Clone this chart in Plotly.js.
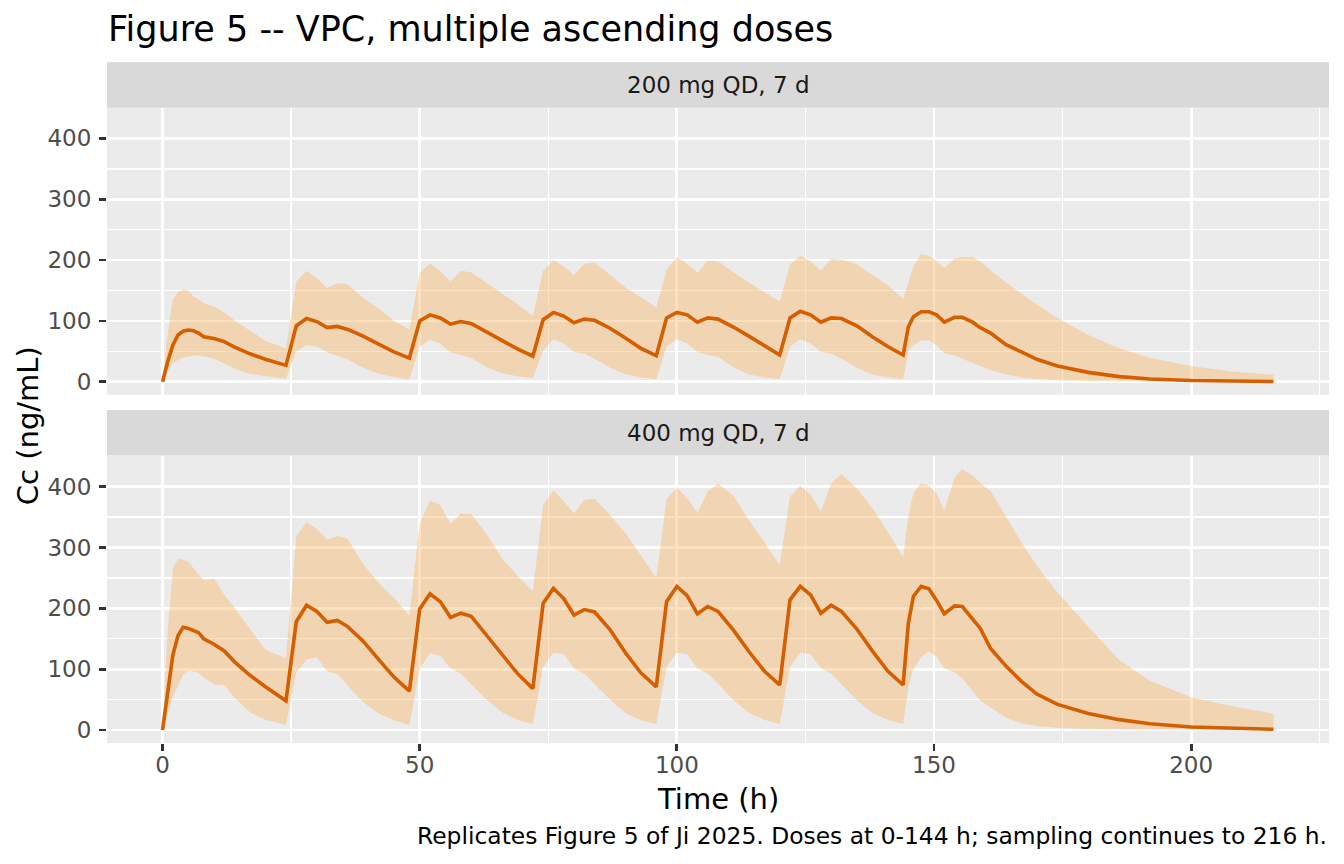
<!DOCTYPE html>
<html>
<head>
<meta charset="utf-8">
<script src="https://cdn.plot.ly/plotly-3.0.1.min.js"></script>
<style>
  html, body { margin: 0; padding: 0; background: #ffffff; }
  #chart { width: 1344px; height: 864px; }
</style>
</head>
<body>
<div id="chart"></div>
<script>
// sampling times (h), shared by both dose groups
var time = [0, 1, 2, 3, 4, 5, 6, 7, 8, 10, 12, 14, 17, 20,
    24, 26, 28, 30, 32, 34, 36, 39, 42, 45,
    48, 50, 52, 54, 56, 58, 60, 63, 66, 69,
    72, 74, 76, 78, 80, 82, 84, 87, 90, 93,
    96, 98, 100, 102, 104, 106, 108, 111, 114, 117,
    120, 122, 124, 126, 128, 130, 132, 135, 138, 141,
    144, 145, 146, 147.5, 149, 150.5, 152, 154, 155.5, 157.5, 159, 161,
    164, 167, 170, 174, 180, 186, 192, 200, 208, 216];

var panelLabels = ["200 mg QD, 7 d", "400 mg QD, 7 d"];

// 200 mg: median and 90% band (ng/mL)
var med200 = [0, 33, 60, 77, 83, 85, 84, 80, 74, 71, 66, 57, 46, 37,
    27, 92, 104, 99, 89, 91, 86, 75, 62, 49,
    39, 100, 110, 105, 95, 99, 96, 82, 67, 54,
    42, 102, 114, 108, 97, 103, 101, 88, 72, 55,
    43, 105, 114, 110, 98, 105, 103, 90, 75, 59,
    44, 105, 116, 110, 98, 105, 104, 92, 74, 58,
    44, 90, 107, 115, 115, 110, 98, 106, 106, 98, 89, 80,
    61, 49, 37, 26, 15.5, 8.5, 4.6, 2, 1, 0.5];
var lo200 = [0, 18, 30, 36, 40, 42, 43, 43, 42, 38, 30, 22, 13, 9,
    5, 50, 60, 58, 48, 43, 37, 23, 13, 8,
    4, 58, 69, 63, 48, 44, 39, 24, 14, 9,
    6, 52, 70, 63, 49, 46, 38, 23, 13, 7,
    4, 58, 70, 63, 49, 44, 41, 24, 12, 7,
    4, 58, 70, 63, 49, 46, 38, 23, 12, 7,
    4, 50, 60, 68, 68, 60, 47, 43, 38, 30, 25, 19,
    12, 7, 4.5, 2.5, 1.2, 0.6, 0.3, 0.1, 0.1, 0.05];
var hi200 = [0, 80, 135, 148, 151, 150, 140, 136, 129, 124, 114, 101, 84, 67,
    55, 165, 182, 170, 154, 162, 160, 138, 121, 100,
    86, 179, 195, 182, 165, 182, 180, 162, 145, 128,
    108, 182, 200, 190, 175, 194, 196, 176, 155, 139,
    122, 184, 205, 194, 179, 199, 198, 180, 163, 147,
    132, 193, 207, 198, 183, 202, 201, 193, 176, 159,
    136, 162, 190, 210, 207, 198, 187, 202, 205, 205, 198, 183,
    163, 145, 127, 105, 77, 55, 39, 26, 17, 11.5];

// 400 mg: median and 90% band (ng/mL)
var med400 = [0, 58, 123, 155, 169, 167, 164, 160, 150, 141, 130, 112, 90, 71,
    48, 178, 205, 195, 177, 180, 170, 146, 116, 87,
    64, 199, 224, 211, 185, 192, 187, 156, 124, 93,
    68, 208, 233, 216, 189, 198, 194, 165, 127, 94,
    71, 211, 236, 221, 191, 203, 195, 164, 129, 97,
    74, 214, 236, 222, 192, 205, 195, 166, 130, 97,
    74, 175, 220, 236, 232, 213, 191, 204, 203, 183, 167, 134,
    105, 80, 59, 42, 27, 17, 10.3, 5, 2.5, 1.1];
var lo400 = [0, 25, 55, 72, 92, 97, 96, 94, 86, 75, 74, 53, 29, 17,
    8, 94, 116, 119, 96, 92, 73, 46, 27, 16,
    8, 101, 126, 122, 101, 93, 75, 50, 29, 17,
    10, 104, 127, 125, 101, 93, 75, 50, 28, 16,
    10, 104, 127, 125, 101, 93, 76, 49, 28, 17,
    10, 104, 127, 125, 101, 93, 75, 49, 28, 17,
    10, 70, 100, 120, 129, 120, 101, 95, 85, 63, 48, 37,
    20, 11, 6.5, 3.5, 1.5, 0.8, 0.4, 0.2, 0.1, 0.05];
var hi400 = [0, 165, 265, 282, 280, 277, 266, 255, 246, 249, 222, 201, 166, 132,
    118, 318, 341, 331, 313, 319, 314, 273, 242, 217,
    188, 340, 377, 370, 339, 356, 355, 322, 282, 254,
    228, 370, 394, 376, 356, 378, 380, 354, 324, 286,
    250, 380, 398, 381, 357, 392, 405, 385, 345, 309,
    271, 384, 402, 387, 359, 405, 421, 397, 365, 326,
    284, 351, 390, 405, 402, 389, 361, 415, 429, 418, 406, 393,
    351, 308, 270, 226, 170, 115, 81, 54, 39, 27];

var lineColor = "#D55E00";
var bandColor = "rgba(250,180,100,0.42)";
var font = "DejaVu Sans, sans-serif";

function panel(lo, hi, med, xa, ya) {
    return [
        {x: time, y: lo, xaxis: xa, yaxis: ya, type: "scatter", mode: "lines",
         line: {width: 0, color: bandColor}, hoverinfo: "skip", showlegend: false},
        {x: time, y: hi, xaxis: xa, yaxis: ya, type: "scatter", mode: "lines",
         fill: "tonexty", fillcolor: bandColor,
         line: {width: 0, color: bandColor}, hoverinfo: "skip", showlegend: false},
        {x: time, y: med, xaxis: xa, yaxis: ya, type: "scatter", mode: "lines",
         line: {width: 3.6, color: lineColor}, showlegend: false}
    ];
}

var data = panel(lo200, hi200, med200, "x2", "y2")
    .concat(panel(lo400, hi400, med400, "x", "y"));

var yCommon = {
    range: [-21.45, 450.5],
    tickvals: [0, 100, 200, 300, 400],
    ticks: "outside", ticklen: 7, tickwidth: 2.8, tickcolor: "#333333",
    ticklabelstandoff: 3,
    tickfont: {family: font, size: 23, color: "#4D4D4D"},
    showgrid: true, gridcolor: "#FFFFFF", gridwidth: 2.8,
    minor: {tickvals: [50, 150, 250, 350, 450], showgrid: true,
            gridcolor: "#FFFFFF", gridwidth: 1.4, ticks: ""},
    zeroline: false, showline: false, fixedrange: true
};

var layout = {
    width: 1344, height: 864,
    margin: {l: 107, r: 15, t: 0, b: 0},
    paper_bgcolor: "#FFFFFF",
    plot_bgcolor: "#EBEBEB",
    font: {family: font, color: "#000000"},
    title: {
        text: "Figure 5 -- VPC, multiple ascending doses",
        font: {family: font, size: 35, color: "#000000"},
        xref: "container", x: 108 / 1344, xanchor: "left",
        yref: "container", y: 1 - 29 / 864, yanchor: "middle"
    },
    xaxis: {
        domain: [0, 1], anchor: "y",
        range: [-10.8, 226.8], tick0: 0, dtick: 50,
        ticks: "outside", ticklen: 7, tickwidth: 2.8, tickcolor: "#333333",
        ticklabelstandoff: -6,
        tickfont: {family: font, size: 23, color: "#4D4D4D"},
        showgrid: true, gridcolor: "#FFFFFF", gridwidth: 2.8,
        minor: {tick0: 25, dtick: 50, showgrid: true, gridcolor: "#FFFFFF",
                gridwidth: 1.4, ticks: ""},
        zeroline: false, showline: false
    },
    xaxis2: {
        domain: [0, 1], anchor: "y2", matches: "x",
        range: [-10.8, 226.8], tick0: 0, dtick: 50,
        showticklabels: false, ticks: "",
        showgrid: true, gridcolor: "#FFFFFF", gridwidth: 2.8,
        minor: {tick0: 25, dtick: 50, showgrid: true, gridcolor: "#FFFFFF",
                gridwidth: 1.4, ticks: ""},
        zeroline: false, showline: false
    },
    yaxis: Object.assign({}, yCommon, {domain: [0.14, 0.4723], anchor: "x"}),
    yaxis2: Object.assign({}, yCommon, {domain: [0.5430, 0.8754], anchor: "x2"}),
    shapes: [
        {type: "rect", xref: "paper", yref: "paper", x0: 0, x1: 1,
         y0: 0.8754, y1: 0.9279, fillcolor: "#D9D9D9", line: {width: 0}, layer: "below"},
        {type: "rect", xref: "paper", yref: "paper", x0: 0, x1: 1,
         y0: 0.4728, y1: 0.5255, fillcolor: "#D9D9D9", line: {width: 0}, layer: "below"}
    ],
    annotations: [
        {text: panelLabels[0], xref: "paper", yref: "paper", x: 0.5, y: 0.9017,
         xanchor: "center", yanchor: "middle", showarrow: false,
         font: {family: font, size: 23, color: "#1A1A1A"}},
        {text: panelLabels[1], xref: "paper", yref: "paper", x: 0.5, y: 0.4991,
         xanchor: "center", yanchor: "middle", showarrow: false,
         font: {family: font, size: 23, color: "#1A1A1A"}},
        {text: "Cc (ng/mL)", xref: "paper", yref: "paper", x: -0.064, y: 0.5076,
         xanchor: "center", yanchor: "middle", textangle: -90, showarrow: false,
         font: {family: font, size: 29, color: "#000000"}},
        {text: "Time (h)", xref: "paper", yref: "paper", x: 0.5, y: 0.0755,
         xanchor: "center", yanchor: "middle", showarrow: false,
         font: {family: font, size: 29, color: "#000000"}},
        {text: "Replicates Figure 5 of Ji 2025. Doses at 0-144 h; sampling continues to 216 h.",
         xref: "paper", yref: "paper", x: 1, y: 0.0324,
         xanchor: "right", yanchor: "middle", showarrow: false,
         font: {family: font, size: 23.4, color: "#000000"}}
    ]
};

Plotly.newPlot("chart", data, layout, {displayModeBar: false, staticPlot: true});
</script>
</body>
</html>
